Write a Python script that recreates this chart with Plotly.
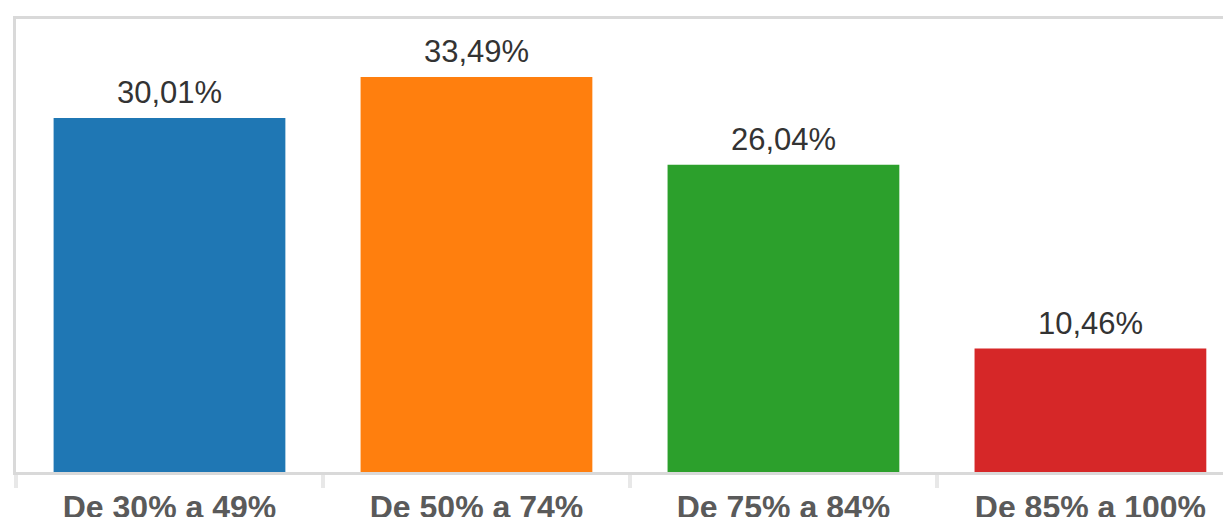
import plotly.graph_objects as go

categories = ["De 30% a 49%", "De 50% a 74%", "De 75% a 84%", "De 85% a 100%"]
values = [30.01, 33.49, 26.04, 10.46]
labels = ["30,01%", "33,49%", "26,04%", "10,46%"]
colors = ["#1f77b4", "#ff7f0e", "#2ca02c", "#d62728"]

fig = go.Figure()
fig.add_trace(go.Bar(
    x=categories, y=values, marker=dict(color=colors, line=dict(width=0)),
    hoverinfo="skip", showlegend=False,
))

for c, v, t in zip(categories, values, labels):
    fig.add_annotation(
        x=c, y=v, text=t, showarrow=False, yanchor="bottom", yshift=6,
        font=dict(family="Liberation Sans, Arial, sans-serif", size=31, color="#333333"),
    )

fig.update_layout(
    width=1231, height=517,
    margin=dict(l=8, r=0, t=11, b=49),
    paper_bgcolor="white", plot_bgcolor="white",
    bargap=0.245,
    xaxis=dict(
        range=[-0.5, 3.484], showline=True, mirror=True, linewidth=3, linecolor="#d9d9d9",
        ticks="outside", tickson="boundaries", ticklen=13, tickwidth=4, tickcolor="#e8e8e8",
        ticklabelstandoff=5,
        showgrid=False, zeroline=False,
        tickfont=dict(family="Liberation Sans, Arial, sans-serif", size=32, color="#5a5a5a", weight="bold"),
    ),
    yaxis=dict(
        range=[0, 38.4], showline=True, mirror=False, linewidth=3, linecolor="#d9d9d9",
        showticklabels=False, showgrid=False, zeroline=False, ticks="",
    ),
)

fig.write_html("out.html")
